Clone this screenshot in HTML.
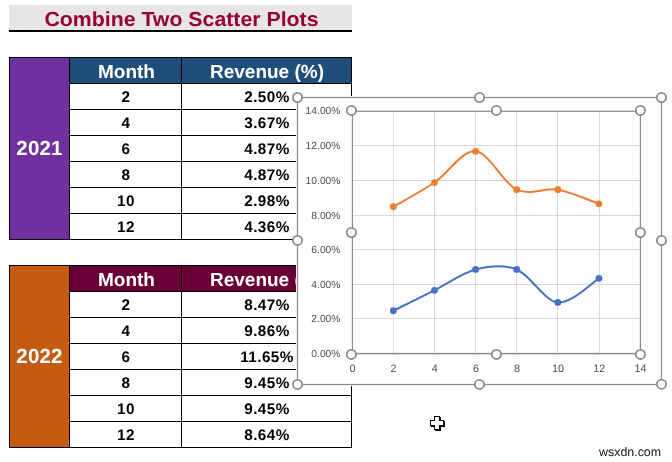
<!DOCTYPE html>
<html><head><meta charset="utf-8"><title>Combine Two Scatter Plots</title>
<style>
html,body{margin:0;padding:0;background:#fff;}
body{text-rendering:geometricPrecision;width:672px;height:462px;position:relative;overflow:hidden;font-family:"Liberation Sans",Arial,sans-serif;}
div{position:absolute;box-sizing:border-box;white-space:nowrap;}
#title{padding-left:2px;left:9px;top:5px;width:343px;height:27px;background:#e7e6e6;border-bottom:2px solid #000;color:#980035;font-weight:bold;font-size:21.3px;line-height:28.5px;text-align:center;}
.tbl{left:9px;width:343px;height:183px;}
.c{letter-spacing:0.4px;border:1px solid #000;background:#fff;font-weight:bold;font-size:15.3px;color:#000;height:27px;line-height:28.2px;}
.m{left:60px;width:113px;text-align:center;padding-left:1px;}
.r{left:172px;width:171px;text-align:center;padding-left:1px;}
.yr{left:0;top:0;width:61px;border:1px solid #000;color:#fff;font-weight:bold;font-size:20.5px;text-align:center;letter-spacing:0.2px;}
.hd{color:#fff;font-weight:bold;font-size:19px;text-align:center;border:1px solid #000;top:0;}
svg{position:absolute;left:0;top:0;}
#title span{display:inline-block;transform:scaleY(0.955);transform-origin:50% 100%;}
#wm{left:599.1px;top:445px;font-size:12.4px;color:#111;line-height:14px;}
</style></head><body>
<div id="title"><span>Combine Two Scatter Plots</span></div>
<div class="tbl" id="t1" style="top:57px;height:183px;">
<div class="yr" style="background:#7030a0;height:183px;line-height:182px;">2021</div>
<div class="hd" style="left:60px;width:113px;height:27px;line-height:29.8px;background:#1f4e79;padding-left:2px;">Month</div>
<div class="hd" style="left:172px;width:171px;height:27px;line-height:29.8px;background:#1f4e79;padding-left:1px;">Revenue (%)</div>
<div class="c m" style="top:26px;">2</div><div class="c r" style="top:26px;">2.50%</div>
<div class="c m" style="top:52px;">4</div><div class="c r" style="top:52px;">3.67%</div>
<div class="c m" style="top:78px;">6</div><div class="c r" style="top:78px;">4.87%</div>
<div class="c m" style="top:104px;">8</div><div class="c r" style="top:104px;">4.87%</div>
<div class="c m" style="top:130px;">10</div><div class="c r" style="top:130px;">2.98%</div>
<div class="c m" style="top:156px;">12</div><div class="c r" style="top:156px;">4.36%</div>
</div>
<div class="tbl" id="t2" style="top:265px;height:183px;">
<div class="yr" style="background:#c55a11;height:183px;line-height:182px;">2022</div>
<div class="hd" style="left:60px;width:113px;height:27px;line-height:29.8px;background:#680035;padding-left:2px;">Month</div>
<div class="hd" style="left:172px;width:171px;height:27px;line-height:29.8px;background:#680035;padding-left:1px;">Revenue (%)</div>
<div class="c m" style="top:26px;">2</div><div class="c r" style="top:26px;">8.47%</div>
<div class="c m" style="top:52px;">4</div><div class="c r" style="top:52px;">9.86%</div>
<div class="c m" style="top:78px;">6</div><div class="c r" style="top:78px;">11.65%</div>
<div class="c m" style="top:104px;">8</div><div class="c r" style="top:104px;">9.45%</div>
<div class="c m" style="top:130px;">10</div><div class="c r" style="top:130px;">9.45%</div>
<div class="c m" style="top:156px;">12</div><div class="c r" style="top:156px;">8.64%</div>
</div>
<svg width="672" height="462" viewBox="0 0 672 462" font-family="Liberation Sans, Arial, sans-serif">
<rect x="296" y="96" width="367" height="290" fill="#fff"/>
<path d="M352.50 318.50H640.40M352.50 284.50H640.40M352.50 249.50H640.40M352.50 215.50H640.40M352.50 180.50H640.40M352.50 145.50H640.40M352.50 111.50H640.40M393.50 111.00V354.00M434.50 111.00V354.00M475.50 111.00V354.00M516.50 111.00V354.00M557.50 111.00V354.00M599.50 111.00V354.00M640.50 111.00V354.00" stroke="#d9d9d9" stroke-width="1" fill="none"/>
<path d="M352.50 354.00H640.40M352.50 111.00V354.00" stroke="#bfbfbf" stroke-width="1" fill="none"/>
<g font-size="10.3" fill="#4f4f4f">
<text x="340.5" y="356.7" text-anchor="end">0.00%</text><text x="340.5" y="321.7" text-anchor="end">2.00%</text><text x="340.5" y="287.7" text-anchor="end">4.00%</text><text x="340.5" y="252.7" text-anchor="end">6.00%</text><text x="340.5" y="218.7" text-anchor="end">8.00%</text><text x="340.5" y="183.7" text-anchor="end">10.00%</text><text x="340.5" y="148.7" text-anchor="end">12.00%</text><text x="340.5" y="114.3" text-anchor="end">14.00%</text>
<text x="352.5" y="372" text-anchor="middle" font-size="10.8">0</text><text x="393.6" y="372" text-anchor="middle" font-size="10.8">2</text><text x="434.8" y="372" text-anchor="middle" font-size="10.8">4</text><text x="475.9" y="372" text-anchor="middle" font-size="10.8">6</text><text x="517.0" y="372" text-anchor="middle" font-size="10.8">8</text><text x="558.1" y="372" text-anchor="middle" font-size="10.8">10</text><text x="599.3" y="372" text-anchor="middle" font-size="10.8">12</text><text x="640.4" y="372" text-anchor="middle" font-size="10.8">14</text>
</g>
<path d="M393.33 310.75C400.18 307.35 420.75 297.25 434.46 290.37C448.17 283.49 461.87 272.95 475.58 269.46C489.29 265.98 503.00 263.98 516.71 269.46C530.42 274.95 544.13 300.91 557.84 302.39C571.55 303.87 592.11 282.36 598.97 278.35" stroke="#4472c4" stroke-width="2" fill="none" stroke-linecap="round"/>
<circle cx="393.33" cy="310.75" r="3.4" fill="#4472c4"/><circle cx="434.46" cy="290.37" r="3.4" fill="#4472c4"/><circle cx="475.58" cy="269.46" r="3.4" fill="#4472c4"/><circle cx="516.71" cy="269.46" r="3.4" fill="#4472c4"/><circle cx="557.84" cy="302.39" r="3.4" fill="#4472c4"/><circle cx="598.97" cy="278.35" r="3.4" fill="#4472c4"/>
<path d="M393.33 206.75C400.18 202.72 420.75 191.77 434.46 182.54C448.17 173.31 461.87 150.17 475.58 151.36C489.29 152.55 503.00 183.29 516.71 189.68C530.42 196.07 544.13 187.33 557.84 189.68C571.55 192.03 592.11 201.44 598.97 203.79" stroke="#ed7d31" stroke-width="2" fill="none" stroke-linecap="round"/>
<circle cx="393.33" cy="206.75" r="3.4" fill="#ed7d31"/><circle cx="434.46" cy="182.54" r="3.4" fill="#ed7d31"/><circle cx="475.58" cy="151.36" r="3.4" fill="#ed7d31"/><circle cx="516.71" cy="189.68" r="3.4" fill="#ed7d31"/><circle cx="557.84" cy="189.68" r="3.4" fill="#ed7d31"/><circle cx="598.97" cy="203.79" r="3.4" fill="#ed7d31"/>
<g stroke="#8a8a8a" stroke-width="1.2" fill="none"><rect x="297.5" y="97.5" width="364" height="287"/><rect x="352.4" y="111.2" width="288" height="242.3"/></g>
<g stroke="#8c8c8c" stroke-width="1.8" fill="#fff"><circle cx="297.5" cy="97.5" r="4.6"/><circle cx="479.5" cy="97.5" r="4.6"/><circle cx="661.5" cy="97.5" r="4.6"/><circle cx="297.5" cy="240.4" r="4.6"/><circle cx="661.5" cy="240.4" r="4.6"/><circle cx="297.5" cy="384.4" r="4.6"/><circle cx="479.5" cy="384.4" r="4.6"/><circle cx="661.5" cy="384.2" r="4.6"/><circle cx="351.4" cy="110.4" r="4.6"/><circle cx="496.4" cy="110.4" r="4.6"/><circle cx="640.4" cy="110.4" r="4.6"/><circle cx="351.4" cy="232.5" r="4.6"/><circle cx="640.4" cy="232.5" r="4.6"/><circle cx="351.4" cy="354.4" r="4.6"/><circle cx="496.4" cy="354.4" r="4.6"/><circle cx="640.4" cy="354.4" r="4.6"/></g>
<g shape-rendering="crispEdges"><path d="M434 416h6v4h4v6h-4v4h-6v-4h-4v-6h4z" fill="#000" transform="translate(1,1)"/><path d="M434 416h6v4h4v6h-4v4h-6v-4h-4v-6h4z" fill="#000"/><path d="M435 417h4v4h4v4h-4v4h-4v-4h-4v-4h4z" fill="#fff"/></g>
</svg>
<div id="wm">wsxdn.com</div>
</body></html>
